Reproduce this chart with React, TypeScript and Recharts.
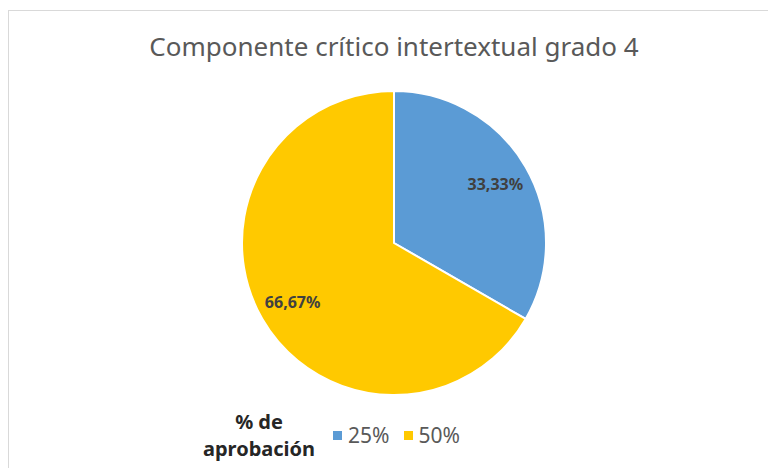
import { PieChart, Pie, Cell, Legend } from "recharts";

const categories = ["25%", "50%"];
const shares = [33.33, 66.67];
const shareLabels = ["33,33%", "66,67%"];
const colors = ["#5b9bd5", "#ffc900"];

const data = categories.map((name, i) => ({ name, value: shares[i], label: shareLabels[i] }));

const RADIAN = Math.PI / 180;
const FONT = "'Noto Sans', sans-serif";

const renderLabel = (props: any) => {
  const { cx, cy, midAngle, outerRadius, index } = props;
  const r = outerRadius * 0.77;
  const x = cx + r * Math.cos(-midAngle * RADIAN);
  const y = cy + r * Math.sin(-midAngle * RADIAN);
  return (
    <text
      x={x}
      y={y}
      textAnchor="middle"
      dominantBaseline="central"
      fill="#404040"
      fontSize={16}
      fontWeight="bold"
      fontFamily={FONT}
    >
      {data[index].label}
    </text>
  );
};

const renderLegend = () => (
  <div style={{ display: "flex", alignItems: "center", fontFamily: FONT }}>
    <div style={{ fontWeight: "bold", fontSize: 20, color: "#262626", textAlign: "center", lineHeight: "27px", marginRight: 18 }}>
      % de<br />aprobación
    </div>
    {data.map((d, i) => (
      <div key={d.name} style={{ display: "flex", alignItems: "center", marginRight: 14 }}>
        <span style={{ width: 9, height: 9, background: colors[i], display: "inline-block", marginRight: 6 }} />
        <span style={{ fontSize: 21, color: "#595959" }}>{d.name}</span>
      </div>
    ))}
  </div>
);

export default function App() {
  return (
    <div style={{ position: "absolute", left: 0, top: 0, width: 768, height: 468, overflow: "hidden", background: "#fff" }}>
      <div style={{ position: "absolute", left: 8, top: 10, width: 800, height: 500, border: "1px solid #d9d9d9" }} />
      <div
        style={{
          position: "absolute",
          left: 0,
          top: 28,
          width: 788,
          textAlign: "center",
          fontFamily: FONT,
          fontSize: 26,
          color: "#595959",
        }}
      >
        Componente crítico intertextual grado 4
      </div>
      <div style={{ position: "absolute", left: 0, top: 0 }}>
        <PieChart width={768} height={468}>
          <Pie
            data={data}
            dataKey="value"
            nameKey="name"
            cx={389}
            cy={238}
            outerRadius={152}
            startAngle={90}
            endAngle={-270}
            stroke="#ffffff"
            strokeWidth={2}
            label={renderLabel}
            labelLine={false}
            isAnimationActive={false}
          >
            {data.map((d, i) => (
              <Cell key={d.name} fill={colors[i]} />
            ))}
          </Pie>
          <Legend
            content={renderLegend}
            wrapperStyle={{ position: "absolute", left: 203, top: 408, width: "auto" }}
          />
        </PieChart>
      </div>
    </div>
  );
}
